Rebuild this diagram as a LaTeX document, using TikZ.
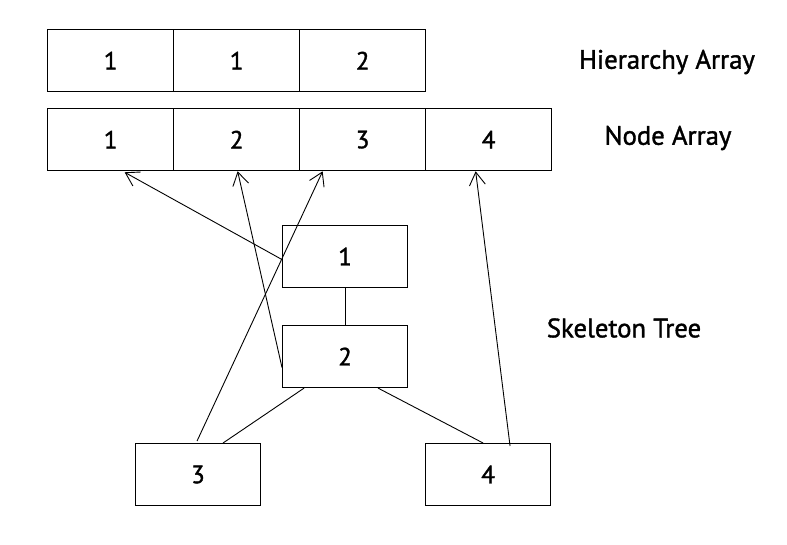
\documentclass[tikz,border=0pt]{standalone}
\usepackage{fontspec}
\setmainfont{PT Sans}[FakeBold=1.4]
\usetikzlibrary{arrows.meta,calc}
\begin{document}
\begin{tikzpicture}[x=1pt,y=-1pt,
  cell/.style={draw,line width=1.3pt,minimum width=126pt,minimum height=62pt,inner sep=0pt,anchor=north west,font=\fontsize{25}{28}\selectfont},
  tbox/.style={draw,line width=1.1pt,minimum width=125pt,minimum height=62pt,inner sep=0pt,anchor=north west,font=\fontsize{25}{28}\selectfont},
  lbl/.style={font=\fontsize{26.7}{30}\selectfont,inner sep=0pt},
  link/.style={line width=0.9pt},
  ptr/.style={line width=0.9pt,-{Straight Barb[length=13pt,width=16pt,line width=0.9pt]}}]
\useasboundingbox (0,0) rectangle (787,545);
% Hierarchy array
\node[cell] (h1) at (47,29) {1};
\node[cell] (h2) at (173,29) {1};
\node[cell] (h3) at (299,29) {2};
\node[lbl] (hl) at (667,62) {Hierarchy Array};
% Node array
\node[cell] (a1) at (47,108) {1};
\node[cell] (a2) at (173,108) {2};
\node[cell] (a3) at (299,108) {3};
\node[cell] (a4) at (425,108) {4};
\node[lbl] (al) at (668,138) {Node Array};
% Tree
\node[tbox] (t1) at (282,225) {1};
\node[tbox] (t2) at (282,325) {2};
\node[tbox] (t3) at (135,443) {3};
\node[tbox] (t4) at (425,443) {4};
\node[lbl] (tl) at (624,328) {Skeleton Tree};
% tree edges
\draw[link] (t1.south) -- (t2.north);
\draw[link] ([xshift=-41pt]t2.south) -- ([xshift=25pt]t3.north);
\draw[link] ([xshift=33pt]t2.south) -- ([xshift=-5pt]t4.north);
% pointers
\draw[ptr] ([yshift=-3pt]t1.west) -- ([xshift=14pt,yshift=-1pt]a1.south);
\draw[ptr] ([yshift=-11pt]t2.west) -- ([xshift=1pt]a2.south);
\draw[ptr] ([xshift=-1pt,yshift=2pt]t3.north) -- ([xshift=-40pt]a3.south);
\draw[ptr] ([xshift=22pt,yshift=-3pt]t4.north) -- ([xshift=-13pt]a4.south);
\end{tikzpicture}
\end{document}
